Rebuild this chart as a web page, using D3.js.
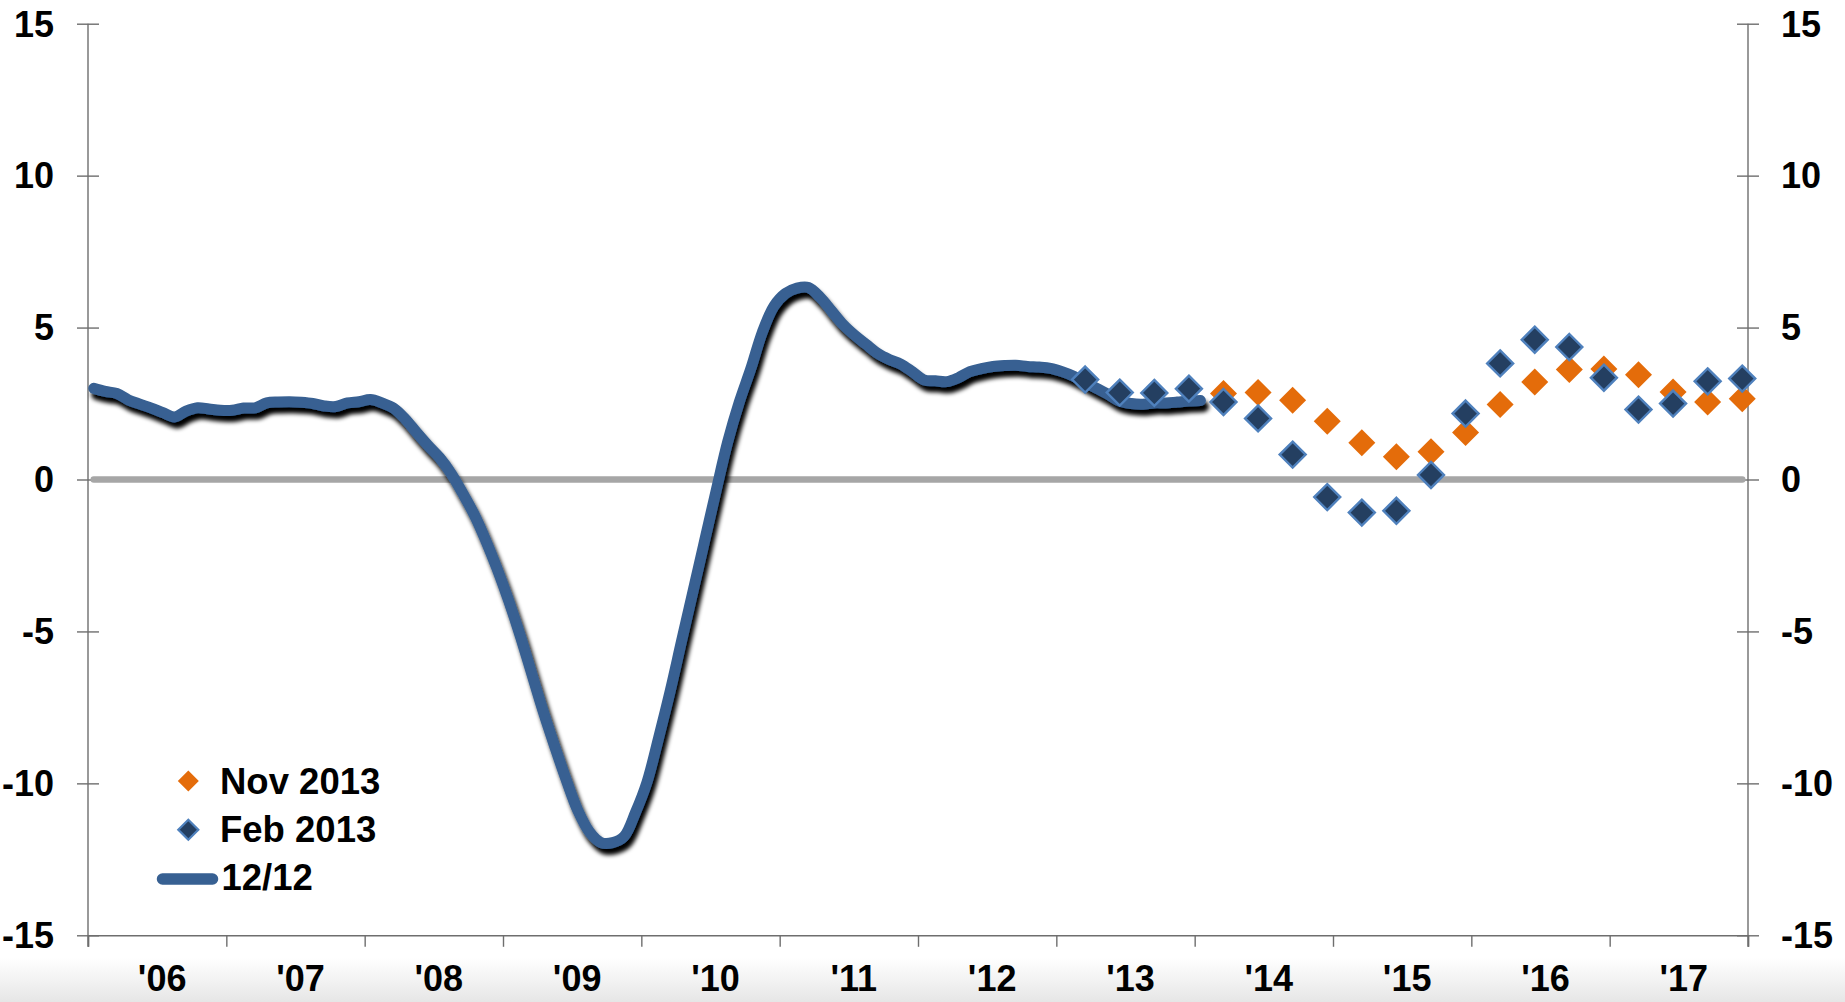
<!DOCTYPE html>
<html>
<head>
<meta charset="utf-8">
<script src="https://cdn.jsdelivr.net/npm/d3@7"></script>
<style>
  html, body { margin: 0; padding: 0; background: #ffffff; }
  svg { display: block; }
  text { font-family: "Liberation Sans", Arial, Helvetica, sans-serif; font-weight: bold; fill: #000; }
</style>
</head>
<body>
<svg id="chart" width="1845" height="1002"></svg>
<script>
// Year-by-year category labels along the time axis
const yearLabels = ["'06", "'07", "'08", "'09", "'10", "'11", "'12", "'13", "'14", "'15", "'16", "'17"];
const firstYear = 2006;

// Y axis ticks (same on both sides)
const yTicks = [-15, -10, -5, 0, 5, 10, 15];

// 12-month change, monthly, starting January 2006
const actualStart = "2006-01";
const actual12m = [
  3.00, 2.90, 2.83, 2.62, 2.48, 2.35, 2.20, 2.06, 2.25, 2.36, 2.32, 2.28,
  2.28, 2.35, 2.36, 2.52, 2.55, 2.56, 2.54, 2.50, 2.42, 2.40, 2.52, 2.56,
  2.63, 2.52, 2.35, 2.00, 1.55, 1.12, 0.72, 0.20, -0.45, -1.15, -2.00, -2.95,
  -4.00, -5.15, -6.40, -7.65, -8.80, -9.90, -10.90, -11.60, -11.95, -11.95, -11.75, -10.95,
  -9.95, -8.50, -6.97, -5.30, -3.65, -2.00, -0.35, 1.25, 2.55, 3.65, 4.85, 5.70,
  6.12, 6.30, 6.32, 6.00, 5.55, 5.10, 4.75, 4.45, 4.15, 3.95, 3.80, 3.55,
  3.28, 3.25, 3.22, 3.35, 3.55, 3.65, 3.72, 3.75, 3.76, 3.72, 3.70, 3.66,
  3.55, 3.40, 3.20, 3.00, 2.80, 2.58, 2.50, 2.48, 2.52, 2.52, 2.55, 2.58,
  2.60
];

// Quarterly forecasts (plotted at the last month of each quarter)
const feb2013Start = "2013-03";
const feb2013 = [3.29, 2.86, 2.85, 2.99, 2.55, 2.01, 0.82, -0.58, -1.09, -1.03,
                 0.15, 2.17, 3.82, 4.60, 4.36, 3.35, 2.30, 2.50, 3.23, 3.32];

const nov2013Start = "2014-03";
const nov2013 = [2.83, 2.86, 2.61, 1.92, 1.21, 0.75, 0.91, 1.55, 2.47, 3.21,
                 3.62, 3.64, 3.45, 2.88, 2.55, 2.66];

const legendItems = ["Nov 2013", "Feb 2013", "12/12"];

// ---------------------------------------------------------------
const W = 1845, H = 1002;
const plot = { left: 88, right: 1748, top: 23.7, bottom: 935.3 };
const totalMonths = yearLabels.length * 12;

const colors = {
  line: "#376092",
  nov: "#E46C0A",
  febFill: "#243F61",
  febStroke: "#4F81BD",
  zero: "#A6A6A6",
  axis: "#6e6e6e"
};

function monthIndex(s) {
  const [yy, mm] = s.split("-").map(Number);
  return (yy - firstYear) * 12 + (mm - 1);
}

const x = d3.scaleLinear().domain([0, totalMonths]).range([plot.left, plot.right]);
const y = d3.scaleLinear().domain([-15, 15]).range([plot.bottom, plot.top]);
const xm = m => x(m + 0.5);

const svg = d3.select("#chart");
const defs = svg.append("defs");

// soft grey fade along the bottom edge
const grad = defs.append("linearGradient").attr("id", "bottomFade")
  .attr("x1", 0).attr("y1", 0).attr("x2", 0).attr("y2", 1);
grad.append("stop").attr("offset", "0%").attr("stop-color", "#ffffff");
grad.append("stop").attr("offset", "100%").attr("stop-color", "#e6e6e6");

// drop shadow under the actual-data line
const shadow = defs.append("filter").attr("id", "lineShadow")
  .attr("filterUnits", "userSpaceOnUse")
  .attr("x", 0).attr("y", 0).attr("width", W).attr("height", H);
shadow.append("feGaussianBlur").attr("in", "SourceAlpha").attr("stdDeviation", 2).attr("result", "blur");
shadow.append("feOffset").attr("in", "blur").attr("dx", 3).attr("dy", 6).attr("result", "off");
const merge = shadow.append("feMerge");
merge.append("feMergeNode").attr("in", "off");
merge.append("feMergeNode").attr("in", "SourceGraphic");

svg.append("rect").attr("x", 0).attr("y", 0).attr("width", W).attr("height", H).attr("fill", "#fff");
svg.append("rect").attr("x", 0).attr("y", 958).attr("width", W).attr("height", H - 958)
  .attr("fill", "url(#bottomFade)");

// ---- axes ----
const tickHalf = 11;
const leftAxis = svg.append("g").attr("transform", `translate(${plot.left},0)`)
  .call(d3.axisLeft(y).tickValues(yTicks).tickSize(tickHalf).tickFormat(""));
leftAxis.selectAll(".tick line").attr("x1", tickHalf);

const rightAxis = svg.append("g").attr("transform", `translate(${plot.right},0)`)
  .call(d3.axisRight(y).tickValues(yTicks).tickSize(tickHalf).tickFormat(""));
rightAxis.selectAll(".tick line").attr("x1", -tickHalf);

const bottomAxis = svg.append("g").attr("transform", `translate(0,${plot.bottom})`)
  .call(d3.axisBottom(x).tickValues(d3.range(0, totalMonths + 1, 12)).tickSize(11.5).tickFormat(""));

[leftAxis, rightAxis, bottomAxis].forEach(g => {
  g.select(".domain").attr("stroke", colors.axis).attr("stroke-width", 1.4);
  g.selectAll(".tick line").attr("stroke", colors.axis).attr("stroke-width", 1.4);
});
leftAxis.select(".domain").attr("d", `M0,${plot.top}V${plot.bottom + 11.5}`);
rightAxis.select(".domain").attr("d", `M0,${plot.top}V${plot.bottom + 11.5}`);

// tick labels
const fontSize = 36;
svg.append("g").selectAll("text").data(yTicks).join("text")
  .attr("x", 54).attr("y", d => y(d) + 12.8)
  .attr("text-anchor", "end").attr("font-size", fontSize)
  .text(d => d);
svg.append("g").selectAll("text").data(yTicks).join("text")
  .attr("x", 1781).attr("y", d => y(d) + 12.8)
  .attr("text-anchor", "start").attr("font-size", fontSize)
  .text(d => d);
svg.append("g").selectAll("text").data(yearLabels).join("text")
  .attr("x", (d, i) => x(i * 12 + 6) + 5).attr("y", 991)
  .attr("text-anchor", "middle").attr("font-size", fontSize)
  .text(d => d);

// ---- zero reference line ----
svg.append("path")
  .datum(d3.range(totalMonths))
  .attr("fill", "none").attr("stroke", colors.zero).attr("stroke-width", 6.5)
  .attr("stroke-linecap", "round")
  .attr("d", d3.line().x(m => xm(m)).y(() => y(0)));

// ---- actual 12-month line ----
const a0 = monthIndex(actualStart);
const lineData = actual12m.map((v, i) => ({ m: a0 + i, v }));
svg.append("path")
  .datum(lineData)
  .attr("fill", "none").attr("stroke", colors.line).attr("stroke-width", 11)
  .attr("stroke-linecap", "round").attr("stroke-linejoin", "round")
  .attr("filter", "url(#lineShadow)")
  .attr("d", d3.line().x(d => xm(d.m)).y(d => y(d.v)).curve(d3.curveCatmullRom.alpha(0.5)));

// ---- forecast diamonds ----
const diamond = r => `M0,${-r}L${r},0L0,${r}L${-r},0Z`;
const quarterly = (start, vals) => vals.map((v, i) => ({ m: monthIndex(start) + 3 * i, v }));

svg.append("g").selectAll("path").data(quarterly(nov2013Start, nov2013)).join("path")
  .attr("transform", d => `translate(${xm(d.m)},${y(d.v)})`)
  .attr("d", diamond(13.5))
  .attr("fill", colors.nov);

svg.append("g").selectAll("path").data(quarterly(feb2013Start, feb2013)).join("path")
  .attr("transform", d => `translate(${xm(d.m)},${y(d.v)})`)
  .attr("d", diamond(13))
  .attr("fill", colors.febFill).attr("stroke", colors.febStroke).attr("stroke-width", 2.4);

// ---- legend ----
const legend = svg.append("g");
const lgX = 188.3, lgTextX = 220, lgBase = [793.5, 841.7, 890];
const lgFont = 36.5;
legend.append("path").attr("transform", `translate(${lgX},${lgBase[0] - 12.5})`)
  .attr("d", diamond(10.5)).attr("fill", colors.nov);
legend.append("path").attr("transform", `translate(${lgX},${lgBase[1] - 12})`)
  .attr("d", diamond(10)).attr("fill", colors.febFill)
  .attr("stroke", colors.febStroke).attr("stroke-width", 2.2);
legend.append("line")
  .attr("x1", 162.5).attr("x2", 212.5).attr("y1", lgBase[2] - 11).attr("y2", lgBase[2] - 11)
  .attr("stroke", colors.line).attr("stroke-width", 11.5).attr("stroke-linecap", "round");
legend.selectAll("text").data(legendItems).join("text")
  .attr("x", (d, i) => i === 2 ? lgTextX + 1.5 : lgTextX)
  .attr("y", (d, i) => lgBase[i])
  .attr("font-size", lgFont)
  .text(d => d);
</script>
</body>
</html>
